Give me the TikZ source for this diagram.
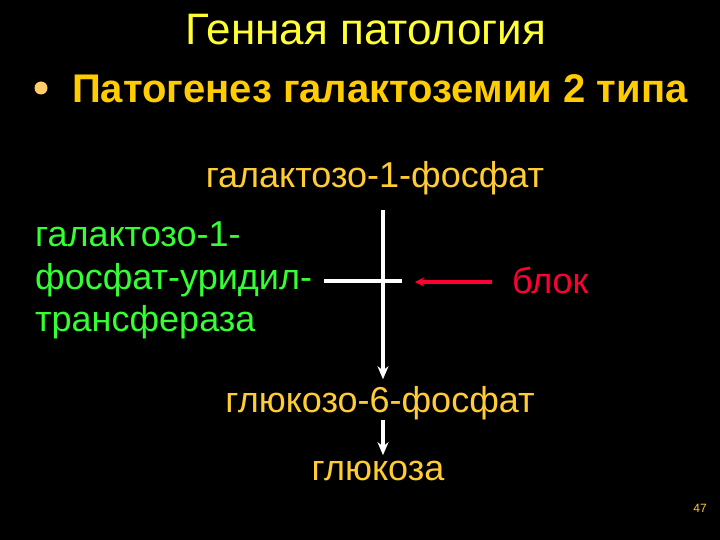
\documentclass[tikz,border=0pt]{standalone}
\usepackage{fontspec}
\setmainfont{Liberation Sans}
\usetikzlibrary{arrows.meta}
\definecolor{titley}{HTML}{FFFF33}
\definecolor{goldy}{HTML}{FFCC00}
\definecolor{lightgold}{HTML}{FFCC33}
\definecolor{bulletc}{HTML}{FFCC66}
\definecolor{greeny}{HTML}{33FF33}
\definecolor{redy}{HTML}{FF0033}
\begin{document}
\begin{tikzpicture}[x=1pt,y=-1pt,
  txt/.style={inner sep=0pt, font=\fontsize{36}{42.5}\selectfont},
  wline/.style={draw=white, line width=4pt},
  warrow/.style={draw=white, line width=4pt, -{Stealth[length=13pt,width=11pt]}},
  rarrow/.style={draw=redy, line width=3.5pt, -{Stealth[length=9pt,width=9pt]}}]
\fill[black] (0,0) rectangle (720,540);
\useasboundingbox (0,0) rectangle (720,540);
\node[inner sep=0pt, anchor=base, text=titley, font=\fontsize{44}{50}\selectfont] (title) at (366,45) {Генная патология};
\fill[bulletc] (41,88) circle (6.5);
\node[inner sep=0pt, anchor=base west, text=goldy, font=\fontsize{40}{46}\selectfont\bfseries] (sub) at (72,103) {Патогенез галактоземии 2 типа};
\node[txt, anchor=base, text=lightgold] (g1p) at (375,188) {галактозо-1-фосфат};
\node[txt, anchor=base, text=lightgold] (g6p) at (380,412) {глюкозо-6-фосфат};
\node[txt, anchor=base, text=lightgold] (glc) at (378,480) {глюкоза};
\node[txt, anchor=north west, text=greeny, align=left] (enz) at (35,222) {галактозо-1-\\фосфат-уридил-\\трансфераза};
\node[txt, anchor=base west, text=redy] (blok) at (512,293) {блок};
\coordinate (vx) at (383,0);
\coordinate (barL) at (324,281);
\coordinate (barR) at (402,281);
\draw[warrow, shorten <=14.4pt, shorten >=6.5pt] (g1p.south -| vx) -- (g6p.north -| vx);
\draw[wline] (barL) -- (barR);
\draw[rarrow, shorten <=20pt, shorten >=13pt] ([yshift=-2pt]blok.west) -- ([yshift=-2pt]barR |- blok.west);
\draw[warrow, shorten <=0pt, shorten >=5.3pt] (g6p.south -| vx) -- (glc.north -| vx);
\node[inner sep=0pt, anchor=base, text=lightgold, font=\fontsize{12}{14}\selectfont] (pg) at (700,512) {47};
\end{tikzpicture}
\end{document}
